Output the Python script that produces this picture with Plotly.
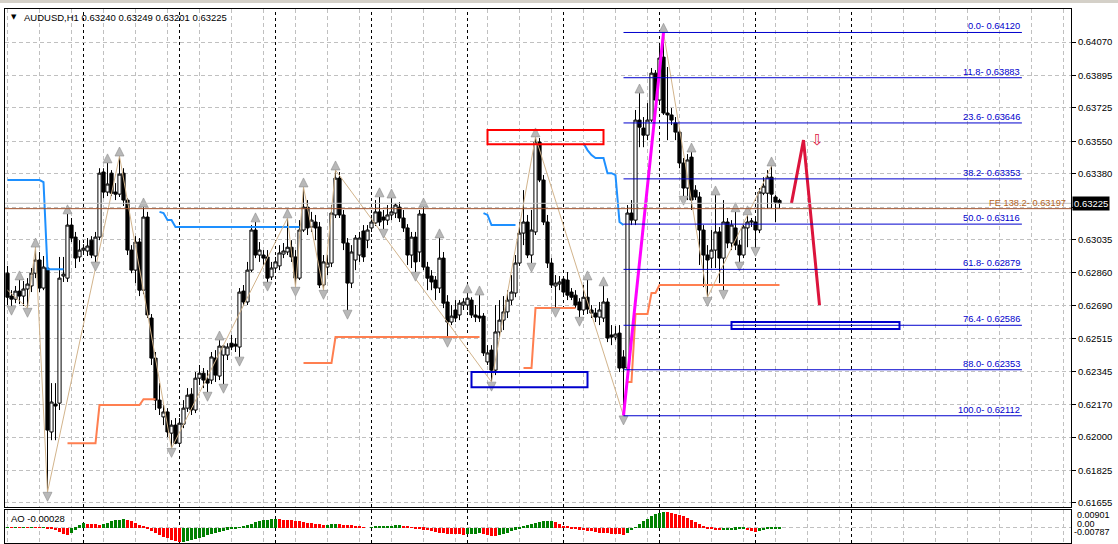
import plotly.graph_objects as go

# ---------------- data ----------------
bars = list(range(194))

opens = [0.62859,0.62739,0.62723,0.62765,0.62739,0.62776,0.62792,0.62859,0.62928,0.62781,
0.62886,0.62027,0.62173,0.62178,0.62844,0.62833,0.63111,0.63048,0.62944,0.62980,
0.62975,0.63032,0.62949,0.63048,0.63389,0.63284,0.63383,0.63284,0.63273,0.63383,
0.63242,0.62980,0.62875,0.63022,0.62770,0.63153,0.62624,0.62414,0.62194,0.62106,
0.62132,0.62021,0.62063,0.61968,0.62068,0.62152,0.62225,0.62142,0.62309,0.62335,
0.62304,0.62299,0.62414,0.62320,0.62430,0.62430,0.62492,0.62487,0.62472,0.62765,
0.62708,0.62875,0.63085,0.62954,0.62954,0.62944,0.62839,0.62886,0.62897,0.62959,
0.62970,0.62995,0.62944,0.62833,0.63085,0.63205,0.63101,0.63127,0.63101,0.62797,
0.62891,0.62912,0.63164,0.63357,0.63164,0.63017,0.62807,0.62928,0.62954,0.63080,
0.63032,0.63096,0.63122,0.63180,0.63153,0.63137,0.63164,0.63174,0.63205,0.63148,
0.63096,0.62954,0.63048,0.62970,0.63169,0.62891,0.62844,0.62823,0.62781,0.62938,
0.62708,0.62603,0.62666,0.62640,0.62692,0.62692,0.62718,0.62640,0.62634,0.62634,
0.62394,0.62456,0.62351,0.62551,0.62613,0.62656,0.62718,0.62755,0.62912,0.63069,
0.63127,0.62954,0.63075,0.63546,0.63347,0.63127,0.62912,0.62792,0.62802,0.62828,
0.62823,0.62760,0.62744,0.62708,0.62666,0.62733,0.62666,0.62650,0.62629,0.62624,
0.62708,0.62535,0.62524,0.62545,0.62420,0.62362,0.63174,0.63137,0.63661,0.63619,
0.63582,0.63661,0.63907,0.63766,0.63991,0.63698,0.63688,0.63646,0.63598,0.63436,
0.63305,0.63467,0.63294,0.63258,0.63085,0.62954,0.62938,0.62980,0.63075,0.62938,
0.63127,0.63017,0.63096,0.63006,0.62954,0.63096,0.63127,0.63127,0.63085,0.63278,
0.63278,0.63362,0.63258,0.63240]

highs = [0.62897,0.62770,0.62792,0.62823,0.62818,0.62833,0.62886,0.62995,0.62970,0.62949,
0.62918,0.62283,0.62283,0.62944,0.62944,0.63169,0.63148,0.63075,0.63032,0.63011,
0.63043,0.63053,0.63075,0.63409,0.63409,0.63436,0.63399,0.63331,0.63472,0.63409,
0.63252,0.63006,0.63053,0.63043,0.63205,0.63180,0.62645,0.62446,0.62283,0.62168,
0.62152,0.62089,0.62100,0.62100,0.62194,0.62257,0.62257,0.62341,0.62378,0.62362,
0.62351,0.62446,0.62456,0.62508,0.62482,0.62492,0.62535,0.62519,0.62781,0.62797,
0.62918,0.63111,0.63127,0.63022,0.62980,0.62980,0.62918,0.62944,0.63006,0.63017,
0.63148,0.63032,0.62980,0.63137,0.63310,0.63242,0.63180,0.63164,0.63127,0.62954,
0.62954,0.63216,0.63399,0.63389,0.63190,0.63043,0.63006,0.63059,0.63075,0.63111,
0.63111,0.63164,0.63242,0.63258,0.63190,0.63216,0.63252,0.63226,0.63231,0.63190,
0.63116,0.63075,0.63075,0.63190,0.63205,0.62918,0.62875,0.62844,0.63043,0.62970,
0.62744,0.62692,0.62718,0.62718,0.62728,0.62755,0.62733,0.62692,0.62744,0.62650,
0.62482,0.62482,0.62692,0.62718,0.62739,0.62770,0.62849,0.62954,0.63127,0.63294,
0.63164,0.63190,0.63572,0.63567,0.63373,0.63164,0.62938,0.62849,0.62844,0.62844,
0.62865,0.62781,0.62770,0.62728,0.62797,0.62823,0.62692,0.62676,0.62708,0.62792,
0.62728,0.62587,0.62582,0.62587,0.62456,0.63216,0.63242,0.63714,0.63802,0.63677,
0.63750,0.63934,0.63923,0.64054,0.64120,0.63939,0.63724,0.63677,0.63619,0.63462,
0.63483,0.63493,0.63320,0.63284,0.63111,0.63006,0.63085,0.63268,0.63101,0.63242,
0.63148,0.63137,0.63180,0.63032,0.63111,0.63164,0.63148,0.63148,0.63305,0.63362,
0.63399,0.63420,0.63268,0.63249]

lows = [0.62692,0.62687,0.62702,0.62697,0.62687,0.62676,0.62760,0.62833,0.62760,0.62770,
0.61712,0.61984,0.61984,0.62142,0.62813,0.62813,0.63022,0.62886,0.62918,0.62959,
0.62949,0.62938,0.62918,0.63032,0.63252,0.63263,0.63263,0.63242,0.63258,0.63211,
0.62954,0.62859,0.62807,0.62739,0.62749,0.62624,0.62378,0.62142,0.62116,0.62063,
0.62000,0.61942,0.61963,0.61953,0.62047,0.62132,0.62116,0.62126,0.62273,0.62257,
0.62236,0.62278,0.62289,0.62299,0.62278,0.62404,0.62456,0.62446,0.62420,0.62687,
0.62692,0.62865,0.62938,0.62918,0.62902,0.62813,0.62823,0.62865,0.62875,0.62938,
0.62954,0.62918,0.62786,0.62823,0.63075,0.63059,0.63075,0.63032,0.62781,0.62770,
0.62849,0.62891,0.63148,0.63148,0.62980,0.62666,0.62781,0.62875,0.62918,0.62918,
0.62990,0.63075,0.63106,0.63106,0.63090,0.63111,0.63137,0.63148,0.63127,0.63075,
0.62902,0.62886,0.62865,0.62918,0.62875,0.62770,0.62770,0.62718,0.62755,0.62676,
0.62519,0.62587,0.62603,0.62613,0.62666,0.62666,0.62624,0.62603,0.62603,0.62425,
0.62378,0.62289,0.62325,0.62524,0.62561,0.62624,0.62692,0.62733,0.62897,0.63006,
0.62938,0.62912,0.63059,0.63336,0.63111,0.62886,0.62781,0.62676,0.62770,0.62744,
0.62718,0.62718,0.62676,0.62629,0.62640,0.62645,0.62624,0.62603,0.62587,0.62603,
0.62498,0.62482,0.62508,0.62341,0.62112,0.62341,0.63111,0.63111,0.63519,0.63519,
0.63556,0.63651,0.63714,0.63756,0.63688,0.63556,0.63635,0.63556,0.63409,0.63263,
0.63242,0.63190,0.63242,0.62902,0.62786,0.62733,0.62886,0.62886,0.62807,0.62770,
0.62990,0.62980,0.62980,0.62918,0.62938,0.62995,0.63101,0.62995,0.63069,0.63268,
0.63200,0.63200,0.63127,0.63201]

closes = [0.62733,0.62723,0.62765,0.62739,0.62776,0.62802,0.62859,0.62928,0.62781,0.62891,
0.62037,0.62184,0.62163,0.62833,0.62854,0.63111,0.63043,0.62938,0.62980,0.62990,
0.63001,0.62954,0.63048,0.63383,0.63284,0.63326,0.63278,0.63273,0.63378,0.63242,
0.62980,0.62875,0.63022,0.62770,0.63153,0.62640,0.62414,0.62194,0.62152,0.62132,
0.62027,0.62063,0.61968,0.62073,0.62152,0.62220,0.62142,0.62309,0.62335,0.62299,
0.62283,0.62420,0.62325,0.62477,0.62477,0.62472,0.62472,0.62477,0.62760,0.62708,
0.62875,0.63085,0.62954,0.62980,0.62938,0.62833,0.62886,0.62918,0.62965,0.62975,
0.62995,0.62944,0.62833,0.63085,0.63205,0.63096,0.63137,0.63096,0.62797,0.62918,
0.62912,0.63174,0.63357,0.63164,0.63017,0.62807,0.62970,0.63043,0.63043,0.62944,
0.63085,0.63127,0.63180,0.63127,0.63137,0.63164,0.63180,0.63216,0.63148,0.63096,
0.62954,0.63048,0.62918,0.63169,0.62891,0.62833,0.62813,0.62781,0.62938,0.62702,
0.62603,0.62634,0.62624,0.62702,0.62708,0.62728,0.62640,0.62629,0.62624,0.62441,
0.62441,0.62351,0.62551,0.62613,0.62656,0.62718,0.62760,0.62912,0.63069,0.63127,
0.62954,0.63085,0.63546,0.63347,0.63127,0.62912,0.62797,0.62807,0.62813,0.62760,
0.62744,0.62733,0.62692,0.62666,0.62733,0.62671,0.62650,0.62629,0.62666,0.62708,
0.62519,0.62524,0.62540,0.62362,0.62362,0.63174,0.63137,0.63661,0.63624,0.63582,
0.63661,0.63907,0.63766,0.63986,0.63698,0.63688,0.63661,0.63598,0.63436,0.63305,
0.63452,0.63242,0.63258,0.63085,0.62954,0.62928,0.62980,0.63075,0.62938,0.63127,
0.63017,0.63111,0.63006,0.62954,0.63101,0.63127,0.63132,0.63085,0.63284,0.63315,
0.63362,0.63273,0.63231,0.63225]

# Awesome Oscillator histogram
ao = [0.0002,0.0001,0.0002,0.0001,0.0002,0.0001,0.0002,0.0001,-0.0001,0.0001,-0.0002,-0.0004,
-0.0012,-0.0022,-0.0032,-0.0038,
-0.0030,-0.0010,0.0012,0.0022,
0.0020,0.0018,0.0016,0.0015,
0.0020,0.0026,0.0032,0.0037,0.0040,0.0042,
0.0040,0.0033,0.0025,0.0015,0.0005,
-0.0006,-0.0016,-0.0026,-0.0036,-0.0046,-0.0055,-0.0063,-0.0070,-0.0075,
-0.0072,-0.0068,-0.0063,-0.0058,-0.0052,-0.0046,-0.0040,-0.0034,-0.0028,-0.0022,-0.0016,-0.0010,-0.0005,
-0.0003,0.0002,0.0006,
0.0012,0.0020,0.0028,0.0034,0.0038,0.0040,0.0042,0.0043,
0.0042,0.0041,0.0040,0.0038,0.0036,0.0034,0.0030,0.0026,0.0022,0.0018,
0.0016,0.0014,0.0015,0.0016,0.0017,0.0016,0.0015,0.0013,0.0011,
0.0008,0.0005,0.0002,0.0000,
0.0003,0.0005,0.0007,0.0008,0.0009,0.0010,0.0011,0.0012,
0.0008,0.0005,0.0002,-0.0002,-0.0006,-0.0010,-0.0014,
-0.0018,-0.0022,-0.0026,-0.0029,-0.0031,-0.0033,-0.0034,-0.0035,-0.0036,
-0.0034,-0.0032,-0.0031,-0.0030,
-0.0034,-0.0038,-0.0041,-0.0043,
-0.0040,-0.0034,-0.0026,-0.0018,-0.0010,-0.0003,
0.0005,0.0012,0.0018,0.0024,0.0029,0.0032,0.0034,0.0036,0.0030,0.0020,
0.0010,0.0004,-0.0002,-0.0006,-0.0010,-0.0013,-0.0016,-0.0019,-0.0022,-0.0025,-0.0027,-0.0029,-0.0031,-0.0033,-0.0035,-0.0036,
-0.0026,-0.0012,0.0003,
0.0018,0.0032,0.0045,0.0058,0.0068,0.0076,0.0081,
0.0080,0.0077,0.0072,0.0065,0.0057,0.0048,0.0038,0.0028,0.0018,0.0008,
-0.0002,-0.0008,-0.0012,
-0.0014,-0.0013,-0.0012,-0.0011,-0.0010,-0.0009,-0.0008,
-0.0012,-0.0016,-0.0020,
-0.0017,-0.0013,-0.0009,-0.0006,-0.0004,-0.00028]

price_ticks = [0.64070,0.63895,0.63725,0.63550,0.63380,0.63205,0.63035,0.62860,
               0.62690,0.62515,0.62345,0.62170,0.62000,0.61825,0.61655]
price_tick_text = ["0.64070","0.63895","0.63725","0.63550","0.63380","","0.63035","0.62860",
                   "0.62690","0.62515","0.62345","0.62170","0.62000","0.61825","0.61655"]
ao_max, ao_min = 0.00901, -0.00787

up_fractal_bars = [3,7,15,25,28,34,53,62,70,74,82,93,96,104,108,115,118,132,145,149,158,164,171,177,182,185,191]
down_fractal_bars = [1,5,10,22,41,50,54,58,65,72,79,85,94,102,110,121,131,137,143,154,169,175,179,183,187]

zz_bars = [0,5,7,10,28,41,70,72,74,79,82,121,132,154,164,175,191]
zz_prices = [0.62770,0.62676,0.62995,0.61712,0.63472,0.61942,0.63148,0.62786,0.63310,
             0.62770,0.63399,0.62289,0.63572,0.62112,0.64120,0.62733,0.63420]

impulse_bars = [154, 164]
impulse_prices = [0.62112, 0.64120]

forecast_bars = [196, 199, 203]
forecast_prices = [0.63226, 0.63556, 0.62692]
forecast_arrow_bar, forecast_arrow_price = 202.4, 0.63556

blue_run_start = [0, 9, 10, 38, 39, 40, 42, 119, 120, 121, 144, 145, 146, 147, 150, 152, 153, 154]
blue_run_end   = [8, 9, 14, 38, 39, 41, 73, 119, 120, 127, 144, 145, 146, 149, 151, 152, 153, 154]
blue_run_level = [0.63347,0.63336,0.62880,0.63180,0.63174,0.63137,0.63101,0.63174,0.63164,0.63111,
                  0.63540,0.63504,0.63478,0.63462,0.63383,0.63373,0.63127,0.63111]

orange_run_start = [15, 23, 34, 74, 82, 129, 132, 155, 157, 161, 163]
orange_run_end   = [22, 33, 37, 81, 118, 131, 142, 156, 160, 162, 193]
orange_run_level = [0.61968,0.62168,0.62199,0.62388,0.62524,0.62362,0.62676,0.62289,0.62645,0.62755,0.62797]

fib_ratios = [0.0, 11.8, 23.6, 38.2, 50.0, 61.8, 76.4, 88.0, 100.0]
fib_prices = [0.64120, 0.63883, 0.63646, 0.63353, 0.63116, 0.62879, 0.62586, 0.62353, 0.62112]
fib_from_bar, fib_to_bar = 154, 253.6

fe_ratio, fe_price = 138.2, 0.63197

red_box = dict(b0=120, b1=149, p0=0.63535, p1=0.63609)
blue_boxes = [dict(b0=116, b1=145, p0=0.62262, p1=0.62341),
              dict(b0=181, b1=223, p0=0.62566, p1=0.62603)]

day_start_bars = [19, 43, 67, 91, 115, 139, 163, 187, 211]
grid_bars = list(range(0, 265, 8))

symbol, timeframe = "AUDUSD", "H1"

# ---------------- helpers ----------------
def expand_runs(starts, ends, levels):
    xs, ys, prev = [], [], None
    for s, e, v in zip(starts, ends, levels):
        if prev is not None and s != prev + 1:
            xs.append(None); ys.append(None)
        for b in range(s, e + 1):
            xs.append(b); ys.append(v)
        prev = e
    return xs, ys

FONT = "Liberation Sans, Arial, sans-serif"
W, H = 1118, 544
ML, MR, MT, MB = 5, 47, 9, 1
PW, PH = W - ML - MR, H - MT - MB

def px_x(px):
    return (px - ML) / PW

def px_y(py):
    return (H - MB - py) / PH

main_bottom = px_y(507)
ao_top = px_y(510)

fig = go.Figure()

# candles
fig.add_trace(go.Candlestick(
    x=bars, open=opens, high=highs, low=lows, close=closes,
    increasing=dict(line=dict(color="black", width=1), fillcolor="white"),
    decreasing=dict(line=dict(color="black", width=1), fillcolor="black"),
    whiskerwidth=0, xaxis="x", yaxis="y", hoverinfo="skip", showlegend=False))

# step indicators
bx, by = expand_runs(blue_run_start, blue_run_end, blue_run_level)
fig.add_trace(go.Scatter(x=bx, y=by, mode="lines", line=dict(color="#1e90ff", width=2),
                         connectgaps=False, xaxis="x", yaxis="y", hoverinfo="skip"))
ox, oy = expand_runs(orange_run_start, orange_run_end, orange_run_level)
fig.add_trace(go.Scatter(x=ox, y=oy, mode="lines", line=dict(color="#ff7f50", width=2),
                         connectgaps=False, xaxis="x", yaxis="y", hoverinfo="skip"))

# zigzag
fig.add_trace(go.Scatter(x=zz_bars, y=zz_prices, mode="lines", line=dict(color="#d2b48c", width=1),
                         xaxis="x", yaxis="y", hoverinfo="skip"))
# impulse leg
fig.add_trace(go.Scatter(x=impulse_bars, y=impulse_prices, mode="lines", line=dict(color="#ff00ff", width=3),
                         xaxis="x", yaxis="y", hoverinfo="skip"))
# forecast path
fig.add_trace(go.Scatter(x=forecast_bars, y=forecast_prices, mode="lines", line=dict(color="#dc143c", width=3),
                         xaxis="x", yaxis="y", hoverinfo="skip"))

# fractals
gap = 0.00048
fig.add_trace(go.Scatter(x=up_fractal_bars, y=[highs[b] + gap for b in up_fractal_bars], mode="markers",
                         marker=dict(symbol="arrow-up", size=9, color="#b8b8b8",
                                     line=dict(color="#8c8c8c", width=0.6)),
                         xaxis="x", yaxis="y", hoverinfo="skip"))
fig.add_trace(go.Scatter(x=down_fractal_bars, y=[lows[b] - gap for b in down_fractal_bars], mode="markers",
                         marker=dict(symbol="arrow-down", size=9, color="#b8b8b8",
                                     line=dict(color="#8c8c8c", width=0.6)),
                         xaxis="x", yaxis="y", hoverinfo="skip"))

# AO histogram
ao_colors = ["#008000"] + ["#008000" if ao[i] > ao[i - 1] else "#ff0000" for i in range(1, len(ao))]
fig.add_trace(go.Bar(x=bars, y=ao, marker=dict(color=ao_colors, line=dict(width=0)), width=0.75,
                     xaxis="x2", yaxis="y2", hoverinfo="skip"))

shapes = []
annotations = []

# day separators
for b in day_start_bars:
    for xr, yr in (("x", "y domain"), ("x2", "y2 domain")):
        shapes.append(dict(type="line", xref=xr, yref=yr, x0=b, x1=b, y0=0, y1=1,
                           line=dict(color="black", width=1, dash="3px,3px"), layer="below"))

# bid and FE lines
shapes.append(dict(type="line", xref="x domain", yref="y", x0=0, x1=1, y0=closes[-1], y1=closes[-1],
                   line=dict(color="#c0c0c0", width=1)))
shapes.append(dict(type="line", xref="x domain", yref="y", x0=0, x1=1, y0=fe_price, y1=fe_price,
                   line=dict(color="#a0522d", width=1)))

# fib lines
for r, p in zip(fib_ratios, fib_prices):
    shapes.append(dict(type="line", xref="x", yref="y", x0=fib_from_bar, x1=fib_to_bar, y0=p, y1=p,
                       line=dict(color="#0000cd", width=1)))
    annotations.append(dict(x=fib_to_bar, y=p, xref="x", yref="y", xanchor="right", yanchor="bottom",
                            text=f"{r:.1f}- {p:.5f}", showarrow=False, yshift=-1,
                            font=dict(family=FONT, size=9.3, color="#0000cd")))

# rectangles
shapes.append(dict(type="rect", xref="x", yref="y", x0=red_box["b0"], x1=red_box["b1"],
                   y0=red_box["p0"], y1=red_box["p1"], line=dict(color="#ff0000", width=2)))
for bb in blue_boxes:
    shapes.append(dict(type="rect", xref="x", yref="y", x0=bb["b0"], x1=bb["b1"],
                       y0=bb["p0"], y1=bb["p1"], line=dict(color="#0000cd", width=2)))

# window chrome band on top
shapes.append(dict(type="rect", xref="paper", yref="paper", x0=-ML / PW, x1=1 + MR / PW,
                   y0=px_y(3), y1=px_y(0), fillcolor="#d4d0c8", line=dict(width=0)))

# FE label
annotations.append(dict(x=px_x(1068), y=fe_price, xref="paper", yref="y", xanchor="right", yanchor="bottom",
                        text=f"FE {fe_ratio:.1f}- {fe_price:.5f}", showarrow=False, yshift=-1,
                        font=dict(family=FONT, size=9.3, color="#b5651d")))

# forecast arrow glyph
annotations.append(dict(x=forecast_arrow_bar, y=forecast_arrow_price, xref="x", yref="y",
                        text="\u21e9", showarrow=False,
                        font=dict(family="DejaVu Sans", size=15, color="#dc143c")))

# header
o, h, l, c = opens[-1], highs[-1], lows[-1], closes[-1]
annotations.append(dict(x=px_x(9), y=px_y(17), xref="paper", yref="paper", xanchor="left", yanchor="middle",
                        text="\u25bc", showarrow=False, font=dict(family="DejaVu Sans", size=7, color="black")))
annotations.append(dict(x=px_x(22), y=px_y(17), xref="paper", yref="paper", xanchor="left", yanchor="middle",
                        text=f"{symbol},{timeframe} {o:.5f} {h:.5f} {l:.5f} {c:.5f}", showarrow=False,
                        font=dict(family=FONT, size=9.5, color="black")))

# AO header and scale labels
annotations.append(dict(x=px_x(9), y=px_y(518), xref="paper", yref="paper", xanchor="left", yanchor="middle",
                        text=f"AO {ao[-1]:.5f}", showarrow=False, font=dict(family=FONT, size=9.5, color="black")))
annotations.append(dict(x=px_x(1075), y=px_y(515), xref="paper", yref="paper", xanchor="left", yanchor="middle",
                        text=f"{ao_max:.5f}", showarrow=False, font=dict(family=FONT, size=9, color="black")))
annotations.append(dict(x=px_x(1075), y=px_y(523.5), xref="paper", yref="paper", xanchor="left", yanchor="middle",
                        text="0.00", showarrow=False, font=dict(family=FONT, size=9, color="black")))
annotations.append(dict(x=px_x(1072), y=px_y(532), xref="paper", yref="paper", xanchor="left", yanchor="middle",
                        text=f"{ao_min:.5f}", showarrow=False, font=dict(family=FONT, size=9, color="black")))

# current price box
annotations.append(dict(x=1.0, y=closes[-1], xref="paper", yref="y", xanchor="left", yanchor="middle",
                        text=f"{closes[-1]:.5f}", showarrow=False, bgcolor="black", borderpad=1, xshift=1,
                        font=dict(family=FONT, size=9.5, color="white")))

xrange = [-0.625, (W - MR - 7.5) / 4]

axis_common = dict(showticklabels=False, tickvals=grid_bars, showgrid=True, gridcolor="#c0c0c0",
                   griddash="4px,3px", gridwidth=1, zeroline=False, showline=True, mirror=True,
                   linecolor="black", linewidth=1, ticks="", range=xrange)

fig.update_layout(
    width=W, height=H, margin=dict(l=ML, r=MR, t=MT, b=MB),
    paper_bgcolor="white", plot_bgcolor="white", showlegend=False,
    boxgap=0.2, boxgroupgap=0, bargap=0,
    xaxis=dict(domain=[0, 1], anchor="y", rangeslider=dict(visible=False), **axis_common),
    xaxis2=dict(domain=[0, 1], anchor="y2", matches="x", **axis_common),
    yaxis=dict(domain=[main_bottom, 1], range=[0.61634, 0.64243], side="right", anchor="x",
               tickvals=price_ticks, ticktext=price_tick_text, ticks="outside", ticklen=4,
               tickcolor="black", showgrid=True, gridcolor="#c0c0c0", griddash="4px,3px",
               zeroline=False, showline=True, mirror=True, linecolor="black", linewidth=1,
               tickfont=dict(family=FONT, size=9.5, color="black")),
    yaxis2=dict(domain=[0, ao_top], range=[ao_min, ao_max], side="right", anchor="x2",
                tickvals=[0], showticklabels=False, ticks="", showgrid=True, gridcolor="#c0c0c0",
                griddash="4px,3px", zeroline=False, showline=True, mirror=True,
                linecolor="black", linewidth=1),
    shapes=shapes, annotations=annotations,
)

fig.write_html("out.html", config={"displayModeBar": False},
               post_script="document.body.style.margin='0';document.body.style.padding='0';"
                           "document.body.style.overflow='hidden';")
